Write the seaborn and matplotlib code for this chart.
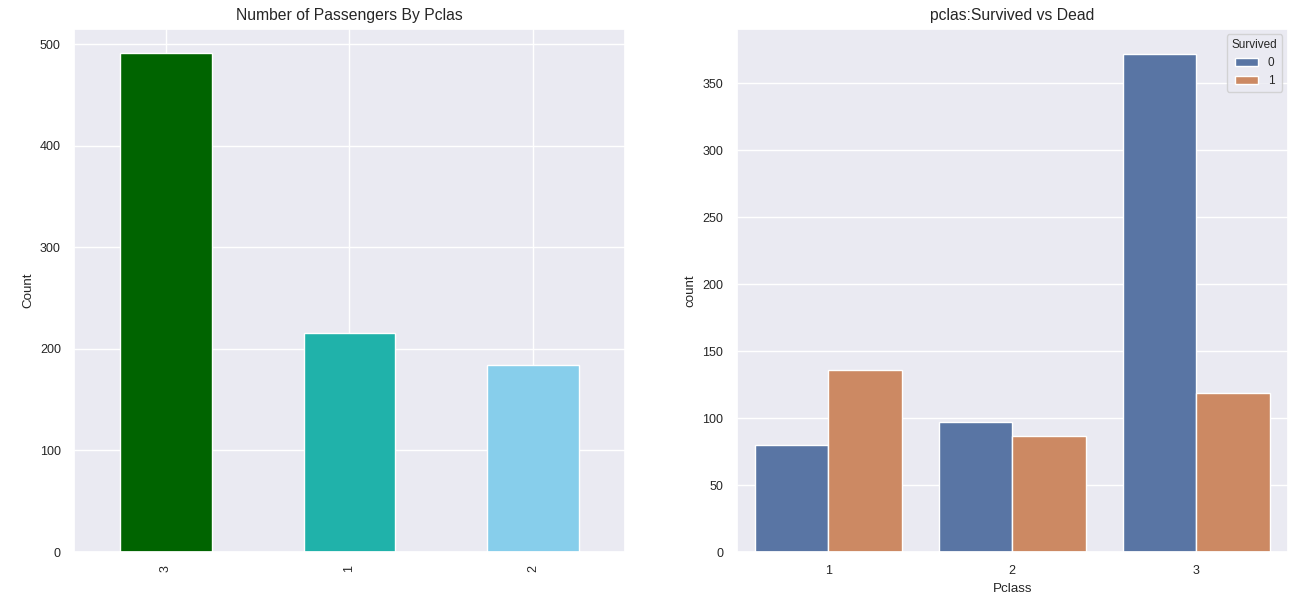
import matplotlib
matplotlib.use("Agg")
import matplotlib.pyplot as plt
import seaborn as sns
import pandas as pd

# Data
class_order = ["3", "1", "2"]
class_counts = [491, 216, 184]
bar_colors = ["darkgreen", "lightseagreen", "skyblue"]

pclass = [1, 2, 3]
dead = [80, 97, 372]
survived = [136, 87, 119]

sns.set_theme(style="darkgrid")
plt.rcParams["font.family"] = ["Liberation Sans", "DejaVu Sans"]
plt.rcParams["xtick.labelsize"] = 9
plt.rcParams["ytick.labelsize"] = 9
plt.rcParams["axes.labelsize"] = 9.6
plt.rcParams["axes.titlesize"] = 11.3

fig = plt.figure(figsize=(12.99, 6.13), dpi=100)
ax1 = fig.add_axes([0.057, 0.0995, 0.424, 0.854])
ax2 = fig.add_axes([0.567, 0.0995, 0.4245, 0.854])

df1 = pd.DataFrame({"Pclass": class_order, "Count": class_counts})
sns.barplot(data=df1, x="Pclass", y="Count", hue="Pclass", order=class_order,
            palette=dict(zip(class_order, bar_colors)), width=0.5,
            saturation=1, legend=False, ax=ax1)
ax1.set_title("Number of Passengers By Pclas")
ax1.set_xlabel("")
ax1.set_ylabel("Count")
ax1.tick_params(axis="x", labelrotation=90)
ax1.set_ylim(0, 515.6)
ax1.set_xlim(-0.5, 2.5)
ax1.xaxis.grid(True)
ax1.set_axisbelow(True)

df2 = pd.DataFrame({
    "Pclass": pclass * 2,
    "Survived": ["0"] * 3 + ["1"] * 3,
    "count": dead + survived,
})
sns.barplot(data=df2, x="Pclass", y="count", hue="Survived", ax=ax2)
ax2.set_title("pclas:Survived vs Dead")
ax2.set_ylim(0, 391)
ax2.legend(title="Survived", loc="upper right", fontsize=8.5, title_fontsize=8.5)

fig.savefig("out.png", dpi=100)
